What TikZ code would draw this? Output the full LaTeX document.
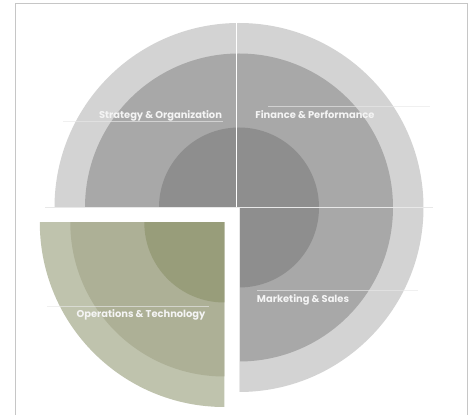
\documentclass[tikz,border=0pt]{standalone}
\usepackage{fontspec}
\newfontfamily\lblfont{Poppins}
\definecolor{ringA}{HTML}{D3D3D3}
\definecolor{ringB}{HTML}{A8A8A8}
\definecolor{ringC}{HTML}{8E8E8E}
\definecolor{grnA}{HTML}{BFC3AD}
\definecolor{grnB}{HTML}{ADB096}
\definecolor{grnC}{HTML}{989D7A}
\definecolor{frameC}{HTML}{C6C6C6}
\definecolor{ruleC}{HTML}{E8E8E8}
\definecolor{txtC}{HTML}{F4F4F4}
\begin{document}
\begin{tikzpicture}[x=1pt,y=1pt,
  lbl/.style={text=txtC, font=\lblfont\bfseries\fontsize{9.9}{11}\selectfont, anchor=base, inner sep=0pt},
  rulez/.style={draw=ruleC, line width=0.7pt, draw opacity=0.65}]
\useasboundingbox (0,0) rectangle (475,415);
\coordinate (C) at (239,207.5);
\coordinate (G) at (224.3,192.5);
% frame
\draw[frameC, line width=1pt] (15.5,-2) -- (15.5,411.5) -- (467.5,411.5) -- (467.5,-2);
% top half (strategy + finance)
\begin{scope}
  \clip (0,208.3) rectangle (475,415);
  \fill[ringA] (C) circle (184.5);
  \fill[ringB] (C) circle (154);
  \fill[ringC] (C) circle (80);
\end{scope}
% bottom right (marketing)
\begin{scope}
  \clip (239.3,0) rectangle (475,206.7);
  \fill[ringA] (C) circle (184.5);
  \fill[ringB] (C) circle (154);
  \fill[ringC] (C) circle (80);
\end{scope}
% bottom left, pulled out (operations)
\begin{scope}
  \clip (0,0) rectangle (224.3,192.5);
  \fill[grnA] (G) circle (184.5);
  \fill[grnB] (G) circle (154);
  \fill[grnC] (G) circle (80);
\end{scope}
% separators
\draw[white, line width=1pt] (236,208.3) -- (236,392);
\draw[ruleC, line width=0.8pt] (45,207.5) -- (433,207.5);
\draw[ruleC, line width=0.6pt] (239.3,206.7) -- (239.3,23);
% label rules
\draw[rulez] (63,293.3) -- (223,293.3);
\draw[rulez] (268,309) -- (430,309);
\draw[rulez] (257,124.3) -- (418,124.3);
\draw[rulez] (47,108.3) -- (209,108.3);
% labels
\node[lbl] (so) at (160.5,296.7) {Strategy \& Organization};
\node[lbl] (fp) at (315,296.5) {Finance \& Performance};
\node[lbl] (ms) at (303,112) {Marketing \& Sales};
\node[lbl] (ot) at (141,97) {Operations \& Technology};
\end{tikzpicture}
\end{document}
